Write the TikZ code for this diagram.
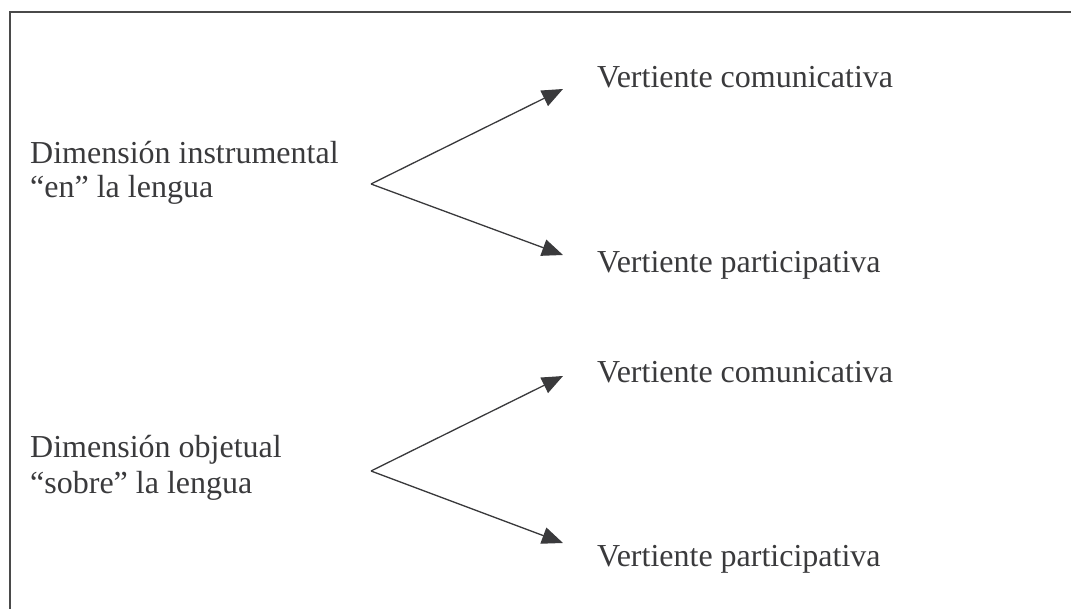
\documentclass[tikz,border=0pt]{standalone}
\usepackage{fontspec}
\setmainfont{Liberation Serif}
\usetikzlibrary{arrows.meta}
\definecolor{ink}{HTML}{3A3A3C}
\definecolor{framecol}{HTML}{4A4A4A}
\begin{document}
\begin{tikzpicture}[x=1pt,y=-1pt,
  label/.style={anchor=base west, inner sep=0pt, text=ink, font=\fontsize{32}{37}\selectfont},
  arr/.style={draw=ink, line width=1.3pt, -{Triangle[length=21pt,width=17pt]}, fill=ink}]
\useasboundingbox (0,0) rectangle (1071,609);
% open frame: only the top and left edges fall inside the page
\draw[framecol, line width=2pt] (9.5,609) -- (9.5,12.5) -- (1071,12.5);

% upper group
\node[label] (dimA1) at (30,164) {Dimensión instrumental};
\node[label] (dimA2) at (30,198) {“en” la lengua};
\node[label] (comA) at (597,88) {Vertiente comunicativa};
\node[label] (parA) at (597,273) {Vertiente participativa};
\coordinate (forkA) at (371,184);
\coordinate (tipA1) at (563,89);
\coordinate (tipA2) at (563,255);
\draw[arr] (forkA) -- (tipA1);
\draw[arr] (forkA) -- (tipA2);

% lower group
\node[label] (dimB1) at (30,457) {Dimensión objetual};
\node[label] (dimB2) at (30,493) {“sobre” la lengua};
\node[label] (comB) at (597,383) {Vertiente comunicativa};
\node[label] (parB) at (597,566) {Vertiente participativa};
\coordinate (forkB) at (371,471);
\coordinate (tipB1) at (563,376);
\coordinate (tipB2) at (563,543);
\draw[arr] (forkB) -- (tipB1);
\draw[arr] (forkB) -- (tipB2);
\end{tikzpicture}
\end{document}
